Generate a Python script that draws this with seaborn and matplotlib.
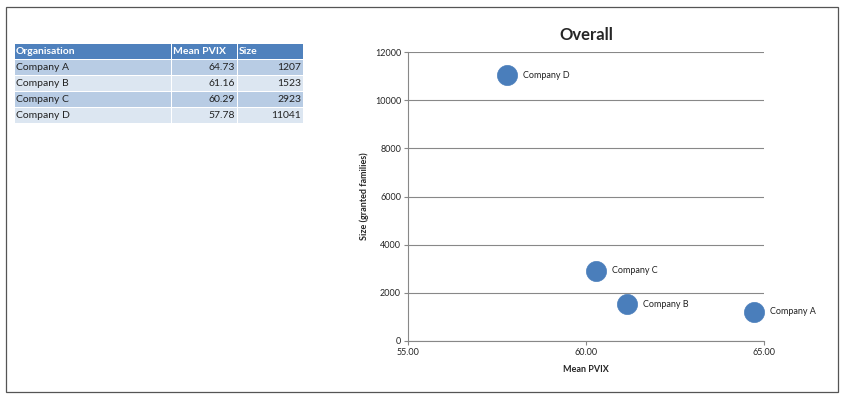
import matplotlib
matplotlib.use("Agg")
import matplotlib.pyplot as plt
from matplotlib.patches import Rectangle
import pandas as pd
import seaborn as sns

# Data
organisations = ["Company A", "Company B", "Company C", "Company D"]
mean_pvix = [64.73, 61.16, 60.29, 57.78]
sizes = [1207, 1523, 2923, 11041]
table_header = ["Organisation", "Mean PVIX", "Size"]
x_ticks = [55, 60, 65]
y_ticks = [0, 2000, 4000, 6000, 8000, 10000, 12000]

df = pd.DataFrame({"Organisation": organisations, "Mean PVIX": mean_pvix, "Size": sizes})

sns.set_style("white")
plt.rcParams["font.family"] = ["Lato", "DejaVu Sans"]

W, H = 846, 399
fig = plt.figure(figsize=(W / 100, H / 100), dpi=100)

# outer border
fig.patches.append(Rectangle((6 / W, 1 - 392 / H), 832 / W, 385 / H, transform=fig.transFigure,
                             fill=False, edgecolor="#555555", linewidth=0.9))

# ---- table (pixel coordinates) ----
tax = fig.add_axes([0, 0, 1, 1])
tax.set_xlim(0, W)
tax.set_ylim(H, 0)
tax.axis("off")
col_x = [15, 172, 238, 304]
row_y = [44, 60, 76, 92, 108, 124]
header_color = "#4f81bd"
row_colors = ["#b8cce4", "#dce6f1"]
for j, name in enumerate(table_header):
    tax.add_patch(Rectangle((col_x[j], row_y[0]), col_x[j + 1] - col_x[j] - 1, row_y[1] - row_y[0] - 1,
                            facecolor=header_color, edgecolor="none"))
    tax.text(col_x[j] + 1, (row_y[0] + row_y[1]) / 2, name, color="white", fontsize=7.5,
             fontweight="bold", va="center", ha="left")
for i, row in df.iterrows():
    y0, y1 = row_y[i + 1], row_y[i + 2]
    values = [row["Organisation"], f"{row['Mean PVIX']:.2f}", f"{row['Size']}"]
    for j, v in enumerate(values):
        tax.add_patch(Rectangle((col_x[j], y0), col_x[j + 1] - col_x[j] - 1, y1 - y0 - 1,
                                facecolor=row_colors[i % 2], edgecolor="none"))
        if j == 0:
            tax.text(col_x[j] + 1, (y0 + y1) / 2, v, fontsize=7.5, va="center", ha="left", color="#222222")
        else:
            tax.text(col_x[j + 1] - 3, (y0 + y1) / 2, v, fontsize=7.5, va="center", ha="right", color="#222222")

# ---- bubble chart ----
ax = fig.add_axes([408 / W, 1 - 341 / H, 356 / W, 289 / H])
sns.scatterplot(data=df, x="Mean PVIX", y="Size", s=210, color="#4a7ebb", edgecolor="#4a7ebb",
                linewidth=0.5, ax=ax, zorder=3, clip_on=False)
for x, y, name in zip(mean_pvix, sizes, organisations):
    ax.annotate(name, (x, y), xytext=(11.5, 0), textcoords="offset points", fontsize=6.5,
                va="center", ha="left", color="#222222")

ax.set_xlim(55, 65)
ax.set_ylim(0, 12000)
ax.set_xticks(x_ticks)
ax.set_xticklabels([f"{t:.2f}" for t in x_ticks])
ax.set_yticks(y_ticks)
ax.yaxis.grid(True, color="#888888", linewidth=0.8)
ax.set_axisbelow(True)
for side in ["top", "right"]:
    ax.spines[side].set_visible(False)
for side in ["left", "bottom"]:
    ax.spines[side].set_color("#888888")
    ax.spines[side].set_linewidth(0.8)
ax.tick_params(axis="both", labelsize=6.5, length=3, color="#888888", direction="out",
               left=True, bottom=True, pad=2)
ax.set_xlabel("Mean PVIX", fontsize=6.5, fontweight="bold", labelpad=6)
ax.set_ylabel("Size (granted families)", fontsize=6.5, fontweight="bold", labelpad=4)
ax.set_title("Overall", fontsize=12, fontweight="bold", pad=9)

fig.savefig("out.png", dpi=100)
